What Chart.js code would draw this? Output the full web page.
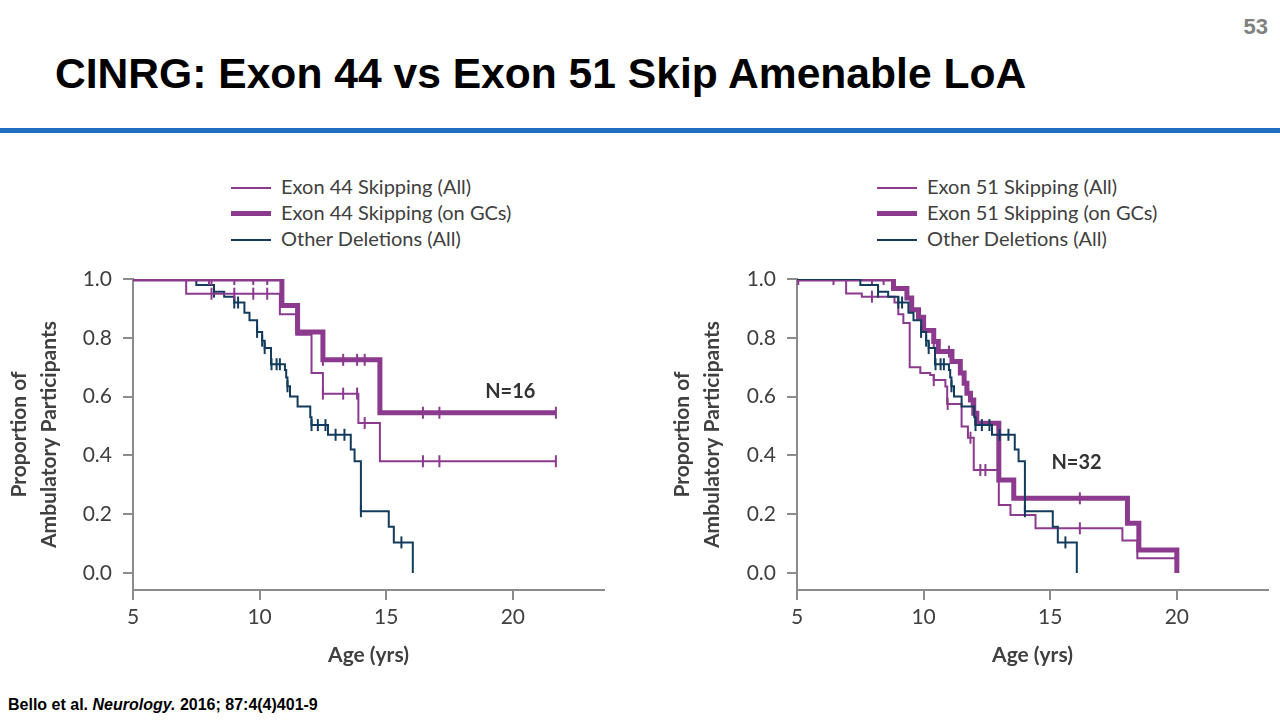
<!DOCTYPE html>
<html>
<head>
<meta charset="utf-8">
<script src="https://cdn.jsdelivr.net/npm/chart.js@4.4.1/dist/chart.umd.min.js"></script>
<style>
  body { margin: 0; width: 1280px; height: 720px; background: #fff; position: relative; overflow: hidden; font-family: 'Liberation Sans', Arial, sans-serif; }
  #pageNo { position: absolute; right: 12px; top: 14px; font-size: 22px; font-weight: bold; color: #808080; }
  #title { position: absolute; left: 55px; top: 49px; font-size: 42.6px; font-weight: bold; color: #000; white-space: nowrap; }
  #rule { position: absolute; left: 0; top: 128px; width: 1280px; height: 5px; background: #1f6fbf; }
  .legend { position: absolute; top: 173px; font-family: Lato, sans-serif; font-size: 20px; color: #404040; }
  .legend div { height: 26px; line-height: 26px; white-space: nowrap; }
  .legend span.swatch { display: inline-block; width: 40px; vertical-align: middle; margin-right: 10px; position: relative; top: -1px; }
  #footnote { position: absolute; left: 8px; top: 696px; font-size: 16px; font-weight: bold; color: #000; }
  canvas { position: absolute; }
</style>
</head>
<body>
<div id="pageNo">53</div>
<div id="title">CINRG: Exon 44 vs Exon 51 Skip Amenable LoA</div>
<div id="rule"></div>
<div class="legend" id="legendLeft" style="left:231px"></div>
<div class="legend" id="legendRight" style="left:877px"></div>
<canvas id="leftPlot" width="620" height="420" style="left:0px; top:262px"></canvas>
<canvas id="rightPlot" width="620" height="420" style="left:660px; top:262px"></canvas>
<div id="footnote">Bello et al. <i>Neurology.</i> 2016; 87:4(4)401-9</div>
<script>
// axis ticks
const xTicks = [5, 10, 15, 20];
const yTicks = [0, 0.2, 0.4, 0.6, 0.8, 1.0];

// Kaplan-Meier steps: age of each drop and the proportion after it
const ex44AllAge  = [5, 7.1, 10.8, 11.45, 12.05, 12.5, 13.9, 14.75, 21.7];
const ex44AllSurv = [1.0, 0.95, 0.88, 0.81, 0.68, 0.61, 0.51, 0.38, 0.38];
const ex44AllCens = [8.1, 9.0, 9.75, 10.3, 12.5, 13.3, 13.85, 14.15, 16.45, 17.1, 21.7];

const ex44GcAge  = [5, 10.88, 11.5, 12.5, 14.75, 21.7];
const ex44GcSurv = [1.0, 0.91, 0.82, 0.725, 0.545, 0.545];
const ex44GcCens = [8.0, 8.1, 9.0, 9.75, 10.3, 12.5, 13.3, 13.85, 14.15, 16.45, 17.1, 21.7];

const ex51AllAge  = [5, 6.94, 7.56, 8.85, 9.0, 9.2, 9.45, 9.87, 10.26, 10.4, 10.86, 10.93, 11.5, 11.75, 11.98, 12.97, 13.43, 14.42, 17.85, 18.44, 20.0];
const ex51AllSurv = [1.0, 0.951, 0.94, 0.92, 0.88, 0.85, 0.70, 0.68, 0.673, 0.656, 0.634, 0.575, 0.498, 0.46, 0.35, 0.231, 0.197, 0.152, 0.11, 0.05, 0.0];
const ex51AllCens = [5.05, 6.44, 7.96, 10.4, 10.95, 11.85, 12.24, 12.44, 16.17];

const ex51GcAge  = [5, 8.81, 9.34, 9.53, 9.8, 10.0, 10.4, 10.58, 11.12, 11.45, 11.6, 11.71, 11.85, 11.98, 12.1, 12.97, 13.56, 18.05, 18.5, 20.0];
const ex51GcSurv = [1.0, 0.968, 0.935, 0.895, 0.87, 0.825, 0.787, 0.753, 0.719, 0.68, 0.645, 0.611, 0.588, 0.543, 0.509, 0.316, 0.254, 0.169, 0.078, 0.0];
const ex51GcCens = [7.96, 8.42, 10.4, 11.0, 11.9, 16.17];

const otherAge  = [5, 7.5, 8.2, 8.6, 9.0, 9.4, 9.6, 9.9, 10.1, 10.2, 10.45, 11.0, 11.05, 11.1, 11.2, 11.5, 12.0, 12.05, 12.7, 13.6, 13.75, 14.0, 15.1, 15.3, 16.05];
const otherSurv = [1.0, 0.98, 0.957, 0.94, 0.92, 0.885, 0.86, 0.82, 0.79, 0.765, 0.71, 0.69, 0.665, 0.635, 0.60, 0.566, 0.53, 0.503, 0.47, 0.42, 0.38, 0.21, 0.157, 0.104, 0.0];
const otherCens = [8.2, 9.0, 9.15, 9.9, 10.1, 10.2, 10.47, 10.67, 10.8, 11.1, 12.05, 12.3, 12.6, 13.0, 13.35, 14.0, 15.6];

const purple = '#8b3a8e';
const navy = '#123b5c';
const axisGray = '#8c8c8c';
const textGray = '#404040';

Chart.defaults.font.family = 'Lato, sans-serif';
Chart.defaults.color = textGray;

function survAt(ages, surv, t) {
    let s = surv[0];
    for (let i = 0; i < ages.length; i++) {
        if (ages[i] <= t + 1e-9) s = surv[i];
    }
    return s;
}

function curve(label, ages, surv, color, width, order) {
    return {
        type: 'line',
        label: label,
        data: ages.map((a, i) => ({ x: a, y: surv[i] })),
        stepped: true,
        borderColor: color,
        borderWidth: width,
        borderJoinStyle: 'miter',
        pointRadius: 0,
        fill: false,
        order: order
    };
}

function censors(ages, surv, cens, color, order) {
    return {
        type: 'line',
        showLine: false,
        data: cens.map(t => ({ x: t, y: survAt(ages, surv, t) })),
        pointStyle: 'line',
        rotation: 90,
        pointRadius: 6,
        pointHoverRadius: 6,
        borderColor: color,
        pointBorderColor: color,
        pointBorderWidth: 2,
        order: order
    };
}

const noteLabel = {
    id: 'noteLabel',
    afterDatasetsDraw(chart, args, opts) {
        const ctx = chart.ctx;
        ctx.save();
        ctx.font = 'bold 20px Lato, sans-serif';
        ctx.fillStyle = '#333';
        ctx.textAlign = 'center';
        ctx.textBaseline = 'middle';
        ctx.fillText(opts.text, chart.scales.x.getPixelForValue(opts.x), chart.scales.y.getPixelForValue(opts.y));
        ctx.restore();
    }
};

function makeChart(id, datasets, yWidth, padLeft, padRight, note) {
    return new Chart(document.getElementById(id).getContext('2d'), {
        type: 'line',
        data: { datasets: datasets },
        options: {
            responsive: false,
            animation: false,
            layout: { padding: { left: padLeft, right: padRight, top: 17, bottom: 12 } },
            scales: {
                x: {
                    type: 'linear',
                    min: 5,
                    max: 23.6,
                    afterBuildTicks: s => { s.ticks = xTicks.map(v => ({ value: v })); },
                    afterFit: s => { s.height = 80; },
                    grid: { drawOnChartArea: false, drawTicks: true, tickLength: 10, color: axisGray, lineWidth: 2 },
                    border: { color: axisGray, width: 2 },
                    ticks: { padding: 5, color: textGray, font: { size: 21 } },
                    title: { display: true, text: 'Age (yrs)', color: textGray, padding: { top: 0, bottom: 2 }, font: { size: 21, weight: 'bold' } }
                },
                y: {
                    type: 'linear',
                    min: -0.058,
                    max: 1.0,
                    afterBuildTicks: s => { s.ticks = yTicks.map(v => ({ value: v })); },
                    afterFit: s => { s.width = yWidth; },
                    grid: { drawOnChartArea: false, drawTicks: true, tickLength: 10, color: axisGray, lineWidth: 2 },
                    border: { color: axisGray, width: 2 },
                    ticks: { padding: 11, color: textGray, font: { size: 21, lineHeight: 0.4 }, callback: v => v.toFixed(1) },
                    title: { display: true, text: ['Proportion of', 'Ambulatory Participants'], color: textGray, padding: { top: 0, bottom: 0 }, font: { size: 21, weight: 'bold', lineHeight: 1.4 } }
                }
            },
            plugins: {
                legend: { display: false },
                tooltip: { enabled: false },
                noteLabel: note
            }
        },
        plugins: [noteLabel]
    });
}

makeChart('leftPlot', [
    curve('Exon 44 Skipping (on GCs)', ex44GcAge, ex44GcSurv, purple, 5, 1),
    censors(ex44GcAge, ex44GcSurv, ex44GcCens, purple, 0),
    curve('Exon 44 Skipping (All)', ex44AllAge, ex44AllSurv, purple, 2, 3),
    censors(ex44AllAge, ex44AllSurv, ex44AllCens, purple, 2),
    curve('Other Deletions (All)', otherAge, otherSurv, navy, 2, 5),
    censors(otherAge, otherSurv, otherCens, navy, 4)
], 128, 5, 16, { text: 'N=16', x: 19.9, y: 0.616 });

makeChart('rightPlot', [
    curve('Exon 51 Skipping (on GCs)', ex51GcAge, ex51GcSurv, purple, 5, 3),
    censors(ex51GcAge, ex51GcSurv, ex51GcCens, purple, 2),
    curve('Exon 51 Skipping (All)', ex51AllAge, ex51AllSurv, purple, 2, 5),
    censors(ex51AllAge, ex51AllSurv, ex51AllCens, purple, 4),
    curve('Other Deletions (All)', otherAge, otherSurv, navy, 2, 1),
    censors(otherAge, otherSurv, otherCens, navy, 0)
], 129, 8, 12, { text: 'N=32', x: 16.04, y: 0.374 });

// legends
function fillLegend(id, items) {
    const box = document.getElementById(id);
    items.forEach(it => {
        const row = document.createElement('div');
        const sw = document.createElement('span');
        sw.className = 'swatch';
        sw.style.borderTop = it.width + 'px solid ' + it.color;
        row.appendChild(sw);
        row.appendChild(document.createTextNode(it.label));
        box.appendChild(row);
    });
}
fillLegend('legendLeft', [
    { label: 'Exon 44 Skipping (All)', color: purple, width: 2 },
    { label: 'Exon 44 Skipping (on GCs)', color: purple, width: 5 },
    { label: 'Other Deletions (All)', color: navy, width: 2 }
]);
fillLegend('legendRight', [
    { label: 'Exon 51 Skipping (All)', color: purple, width: 2 },
    { label: 'Exon 51 Skipping (on GCs)', color: purple, width: 5 },
    { label: 'Other Deletions (All)', color: navy, width: 2 }
]);
</script>
</body>
</html>
